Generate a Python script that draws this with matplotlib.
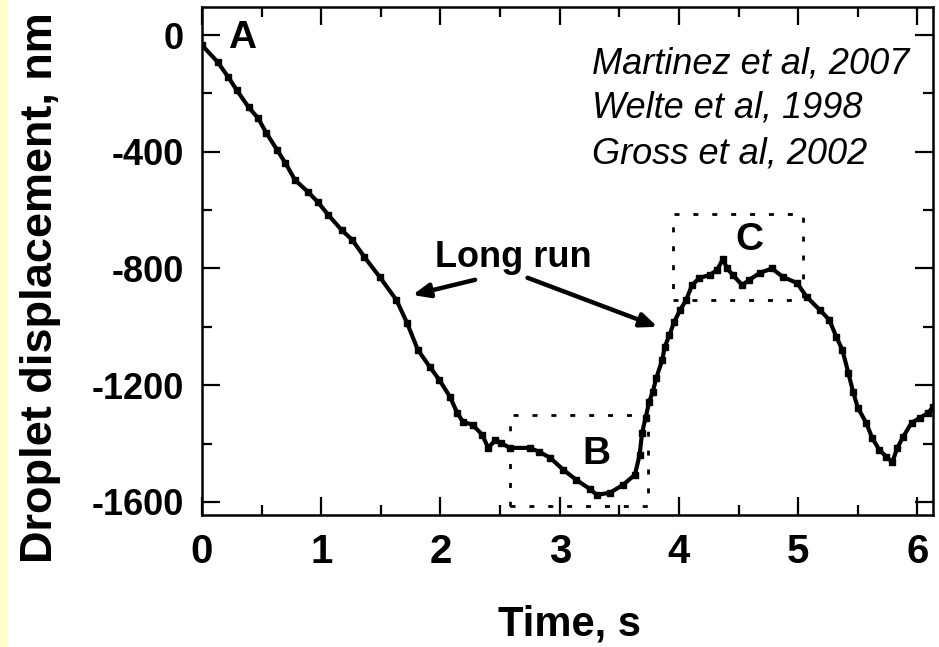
import matplotlib
matplotlib.use("Agg")
import matplotlib.pyplot as plt
from matplotlib.ticker import MultipleLocator
from matplotlib.patches import Rectangle

plt.rcParams["axes.unicode_minus"] = False

# ---- data ----
time_s = [0.00, 0.13, 0.22, 0.29, 0.39, 0.47, 0.54, 0.63, 0.70, 0.78, 0.89, 0.97,
          1.06, 1.17, 1.26, 1.36, 1.49, 1.63, 1.72, 1.81, 1.91, 1.99, 2.08, 2.14,
          2.19, 2.27, 2.35, 2.40, 2.46, 2.51, 2.58, 2.75, 2.83, 2.92, 3.03, 3.14,
          3.25, 3.31, 3.42, 3.53, 3.63, 3.67, 3.69, 3.72, 3.75, 3.78, 3.81, 3.86,
          3.88, 3.92, 3.96, 4.01, 4.06, 4.11, 4.17, 4.26, 4.32, 4.37, 4.40, 4.45,
          4.53, 4.59, 4.68, 4.78, 4.87, 4.99, 5.07, 5.18, 5.26, 5.32, 5.37, 5.42,
          5.46, 5.50, 5.57, 5.62, 5.68, 5.74, 5.79, 5.83, 5.88, 5.95, 6.02, 6.09,
          6.13]
displacement_nm = [-35, -92, -144, -188, -247, -285, -336, -394, -439, -497, -538, -572,
                   -617, -668, -702, -760, -829, -908, -987, -1079, -1137, -1182, -1240, -1295,
                   -1326, -1336, -1370, -1415, -1388, -1398, -1415, -1415, -1429, -1449, -1490, -1525,
                   -1555, -1576, -1569, -1542, -1507, -1439, -1364, -1312, -1257, -1223, -1175, -1113,
                   -1069, -1028, -983, -942, -908, -857, -833, -822, -805, -767, -798, -822,
                   -857, -839, -815, -800, -829, -850, -897, -942, -976, -1035, -1079, -1158,
                   -1223, -1278, -1329, -1381, -1422, -1446, -1463, -1415, -1377, -1329, -1312, -1295,
                   -1274]

x_ticks = [0, 1, 2, 3, 4, 5, 6]
y_ticks = [0, -400, -800, -1200, -1600]

box_B = (2.58, 3.74, -1614, -1302)   # t0, t1, y0, y1
box_C = (3.95, 5.04, -908, -613)

references = ["Martinez et al, 2007", "Welte et al, 1998", "Gross et al, 2002"]

# ---- figure ----
fig = plt.figure(figsize=(9.39, 6.47), dpi=100)
fig.patch.set_facecolor("white")
fig.patches.append(Rectangle((0, 0), 7 / 939, 1, transform=fig.transFigure,
                             facecolor="#FFFFCC", edgecolor="none", zorder=0))

ax = fig.add_axes([202 / 939, 1 - 515 / 647, (933 - 202) / 939, (515 - 7) / 647])
ax.set_xlim(0, 6.13)
ax.set_ylim(-1645, 96)

ax.plot(time_s, displacement_nm, color="black", lw=3.0, marker="s", ms=4.0,
        solid_joinstyle="round")

# dotted boxes
for (t0, t1, y0, y1) in (box_B, box_C):
    ax.plot([t0, t1, t1, t0, t0], [y0, y0, y1, y1, y0], color="black", lw=2.0,
            linestyle=(0, (1.8, 5.0)), dash_capstyle="butt")

lab_font = dict(family="Liberation Sans", weight="bold", size=28)
ax.text(0.336, -9, "A", ha="center", va="center", **lab_font)
ax.text(3.31, -1435, "B", ha="center", va="center", **lab_font)
ax.text(4.59, -702, "C", ha="center", va="center", **lab_font)

ax.text(2.61, -795, "Long run", ha="center", va="baseline",
        family="Liberation Sans", weight="bold", size=26)
arrow_kw = dict(arrowstyle="-|>,head_length=1.0,head_width=0.42", color="black",
                lw=3.2, shrinkA=0, shrinkB=0)
ax.annotate("", xy=(1.765, -891), xytext=(2.29, -839), arrowprops=arrow_kw)
ax.annotate("", xy=(3.82, -1000), xytext=(2.73, -832), arrowprops=arrow_kw)

for ref, yv in zip(references, [-99, -250, -408]):
    ax.text(3.27, yv, ref, ha="left", va="center", family="Liberation Sans",
            style="italic", size=26)

# ticks
ax.set_xticks(x_ticks)
ax.set_yticks(y_ticks)
ax.xaxis.set_minor_locator(MultipleLocator(0.5))
ax.yaxis.set_minor_locator(MultipleLocator(200))
ax.tick_params(which="both", direction="in", top=True, right=True, width=1.6, color="black")
ax.tick_params(which="major", length=13)
ax.tick_params(which="minor", length=7)
ax.tick_params(axis="x", which="major", pad=13, labelsize=29)
ax.tick_params(axis="y", which="major", pad=13, labelsize=26)
for lbl in ax.get_xticklabels() + ax.get_yticklabels():
    lbl.set_family("Liberation Sans")
    lbl.set_weight("bold")
for s in ax.spines.values():
    s.set_linewidth(1.8)

fig.text(570 / 939, 1 - 635 / 647, "Time, s", ha="center", va="baseline",
         family="Liberation Sans", weight="bold", size=30)
fig.text(41 / 939, 1 - 288 / 647, "Droplet displacement, nm", ha="center", va="center",
         rotation=90, family="Liberation Sans", weight="bold", size=32.5)

fig.savefig("out.png", dpi=100)
